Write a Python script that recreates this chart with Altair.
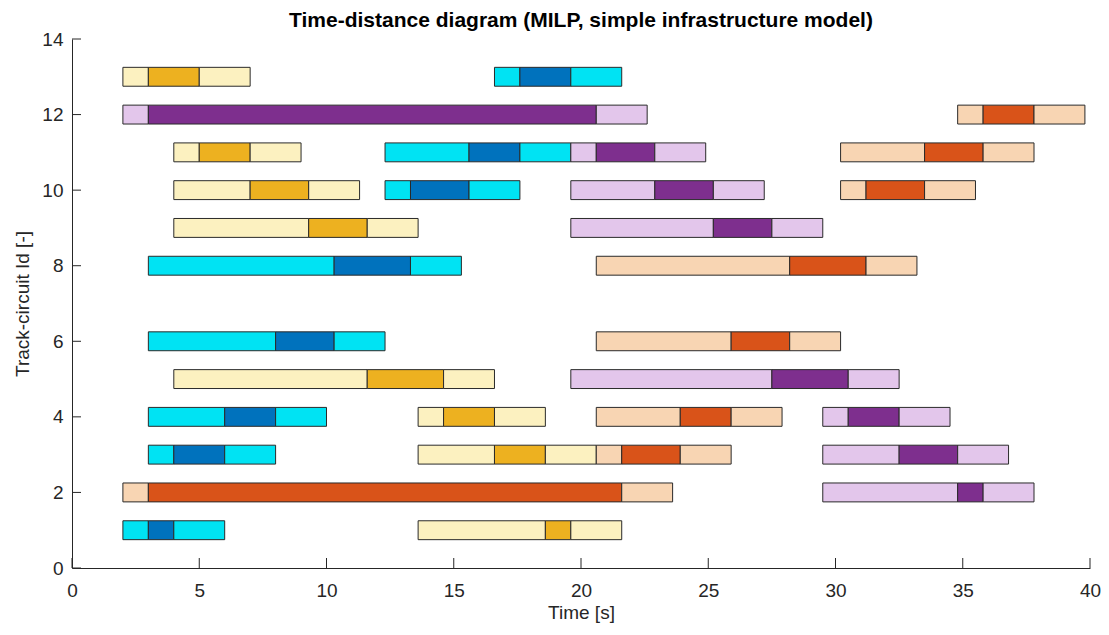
import altair as alt
import pandas as pd

# Segment data: track-circuit row, start time, end time, colour class
rows = [13, 13, 13, 13, 13, 13,
        12, 12, 12, 12, 12, 12,
        11, 11, 11, 11, 11, 11, 11, 11, 11, 11, 11, 11,
        10, 10, 10, 10, 10, 10, 10, 10, 10, 10, 10, 10,
        9, 9, 9, 9, 9, 9,
        8, 8, 8, 8, 8, 8,
        6, 6, 6, 6, 6, 6,
        5, 5, 5, 5, 5, 5,
        4, 4, 4, 4, 4, 4, 4, 4, 4, 4, 4, 4,
        3, 3, 3, 3, 3, 3, 3, 3, 3, 3, 3, 3,
        2, 2, 2, 2, 2, 2,
        1, 1, 1, 1, 1, 1]
starts = [2, 3, 5, 16.6, 17.6, 19.6,
          2, 3, 20.6, 34.8, 35.8, 37.8,
          4, 5, 7, 12.3, 15.6, 17.6, 19.6, 20.6, 22.9, 30.2, 33.5, 35.8,
          4, 7, 9.3, 12.3, 13.3, 15.6, 19.6, 22.9, 25.2, 30.2, 31.2, 33.5,
          4, 9.3, 11.6, 19.6, 25.2, 27.5,
          3, 10.3, 13.3, 20.6, 28.2, 31.2,
          3, 8, 10.3, 20.6, 25.9, 28.2,
          4, 11.6, 14.6, 19.6, 27.5, 30.5,
          3, 6, 8, 13.6, 14.6, 16.6, 20.6, 23.9, 25.9, 29.5, 30.5, 32.5,
          3, 4, 6, 13.6, 16.6, 18.6, 20.6, 21.6, 23.9, 29.5, 32.5, 34.8,
          2, 3, 21.6, 29.5, 34.8, 35.8,
          2, 3, 4, 13.6, 18.6, 19.6]
ends = [3, 5, 7, 17.6, 19.6, 21.6,
        3, 20.6, 22.6, 35.8, 37.8, 39.8,
        5, 7, 9, 15.6, 17.6, 19.6, 20.6, 22.9, 24.9, 33.5, 35.8, 37.8,
        7, 9.3, 11.3, 13.3, 15.6, 17.6, 22.9, 25.2, 27.2, 31.2, 33.5, 35.5,
        9.3, 11.6, 13.6, 25.2, 27.5, 29.5,
        10.3, 13.3, 15.3, 28.2, 31.2, 33.2,
        8, 10.3, 12.3, 25.9, 28.2, 30.2,
        11.6, 14.6, 16.6, 27.5, 30.5, 32.5,
        6, 8, 10, 14.6, 16.6, 18.6, 23.9, 25.9, 27.9, 30.5, 32.5, 34.5,
        4, 6, 8, 16.6, 18.6, 20.6, 21.6, 23.9, 25.9, 32.5, 34.8, 36.8,
        3, 21.6, 23.6, 34.8, 35.8, 37.8,
        3, 4, 6, 18.6, 19.6, 21.6]
kinds = ["yL", "yD", "yL", "cL", "cD", "cL",
         "pL", "pD", "pL", "oL", "oD", "oL",
         "yL", "yD", "yL", "cL", "cD", "cL", "pL", "pD", "pL", "oL", "oD", "oL",
         "yL", "yD", "yL", "cL", "cD", "cL", "pL", "pD", "pL", "oL", "oD", "oL",
         "yL", "yD", "yL", "pL", "pD", "pL",
         "cL", "cD", "cL", "oL", "oD", "oL",
         "cL", "cD", "cL", "oL", "oD", "oL",
         "yL", "yD", "yL", "pL", "pD", "pL",
         "cL", "cD", "cL", "yL", "yD", "yL", "oL", "oD", "oL", "pL", "pD", "pL",
         "cL", "cD", "cL", "yL", "yD", "yL", "oL", "oD", "oL", "pL", "pD", "pL",
         "oL", "oD", "oL", "pL", "pD", "pL",
         "cL", "cD", "cL", "yL", "yD", "yL"]

kind_names = ["yL", "yD", "cL", "cD", "oL", "oD", "pL", "pD"]
kind_colors = ["#FCF1C0", "#EDB120", "#00E3F3", "#0072BD",
               "#F8D5B3", "#D95319", "#E3C6EB", "#7E2F8E"]

x_ticks = [0, 5, 10, 15, 20, 25, 30, 35, 40]
y_ticks = [0, 2, 4, 6, 8, 10, 12, 14]
bar_half = 0.25

df = pd.DataFrame({"row": rows, "start": starts, "end": ends, "kind": kinds})
df["lo"] = df["row"] - bar_half
df["hi"] = df["row"] + bar_half

W, H = 1018, 529
FONT = "Liberation Sans"
AX = "#262626"

xscale = alt.Scale(domain=[0, 40], nice=False, zero=False)
yscale = alt.Scale(domain=[0, 14], nice=False, zero=False)

xaxis = alt.Axis(values=x_ticks, title="Time [s]", ticks=False,
                 labelFontSize=19, titleFontSize=19, labelFont=FONT, titleFont=FONT,
                 labelColor=AX, titleColor=AX, titleFontWeight="normal",
                 domainColor=AX, labelPadding=13, titlePadding=3, grid=False,
                 labelFlush=False)
yaxis = alt.Axis(values=y_ticks, title="Track-circuit Id [-]", ticks=False,
                 labelFontSize=19, titleFontSize=19, labelFont=FONT, titleFont=FONT,
                 labelColor=AX, titleColor=AX, titleFontWeight="normal",
                 domainColor=AX, labelPadding=9, titlePadding=9, grid=False,
                 labelFlush=False)

bars = alt.Chart(df).mark_rect(stroke="#2a2a2a", strokeWidth=1).encode(
    x=alt.X("start:Q", scale=xscale, axis=xaxis),
    x2="end:Q",
    y=alt.Y("lo:Q", scale=yscale, axis=yaxis),
    y2="hi:Q",
    color=alt.Color("kind:N", scale=alt.Scale(domain=kind_names, range=kind_colors), legend=None),
)

xt = alt.Chart(pd.DataFrame({"t": x_ticks})).mark_rule(color=AX, strokeWidth=1).encode(
    x=alt.X("t:Q", scale=xscale, axis=xaxis),
    y=alt.value(H), y2=alt.value(H - 10),
)
yt = alt.Chart(pd.DataFrame({"v": y_ticks})).mark_rule(color=AX, strokeWidth=1).encode(
    y=alt.Y("v:Q", scale=yscale, axis=yaxis),
    x=alt.value(0), x2=alt.value(9),
)

chart = alt.layer(bars, xt, yt).properties(
    width=W, height=H,
    background="white",
    title=alt.TitleParams("Time-distance diagram (MILP, simple infrastructure model)",
                          fontSize=21, fontWeight="bold", font=FONT, color="#000000",
                          anchor="middle", offset=-1),
    autosize=alt.AutoSizeParams(type="none"),
    padding={"left": 64, "top": 31, "right": 11, "bottom": 59},
).configure_view(stroke=None)

chart.save("out.html", embed_options={"renderer": "svg", "actions": False})
